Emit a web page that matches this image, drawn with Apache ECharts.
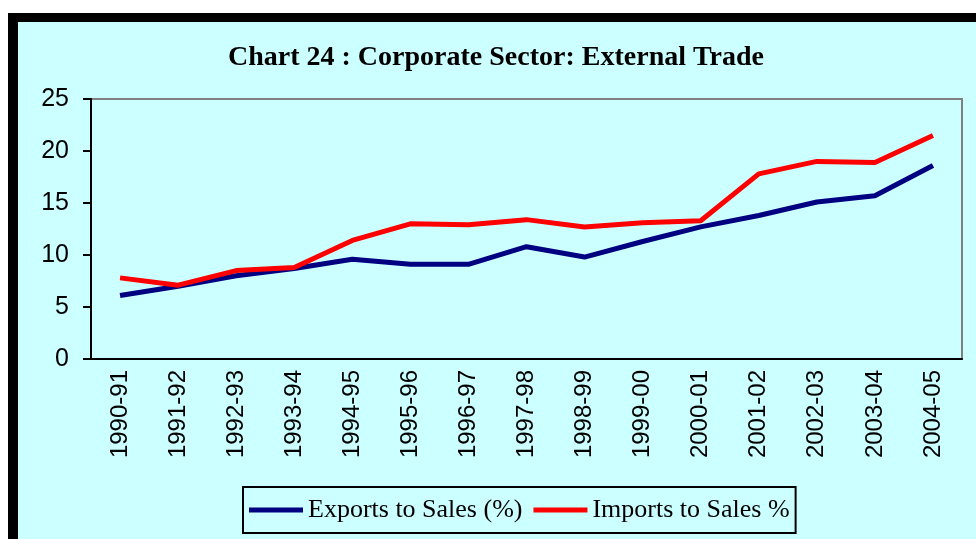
<!DOCTYPE html>
<html>
<head>
<meta charset="utf-8">
<script src="https://cdn.jsdelivr.net/npm/echarts@6/dist/echarts.min.js"></script>
<style>
  html, body { margin: 0; padding: 0; background: #fff; }
  #wrap { position: relative; width: 976px; height: 539px; overflow: hidden; }
  #frame { position: absolute; left: 8px; top: 13px; right: -20px; bottom: -20px; background: #000; }
  #fill { position: absolute; left: 18px; top: 22px; right: -20px; bottom: -20px; background: #ccffff; }
  #chart { position: absolute; left: 0; top: 0; width: 976px; height: 539px; }
</style>
</head>
<body>
<div id="wrap">
  <div id="frame"></div>
  <div id="fill"></div>
  <div id="chart"></div>
</div>
<script>
const years = ['1990-91', '1991-92', '1992-93', '1993-94', '1994-95', '1995-96', '1996-97', '1997-98',
  '1998-99', '1999-00', '2000-01', '2001-02', '2002-03', '2003-04', '2004-05']
const exportsToSales = [6.1, 7.0, 8.0, 8.7, 9.6, 9.1, 9.1, 10.8, 9.8, 11.3, 12.7, 13.8, 15.1, 15.7, 18.6]
const importsToSales = [7.8, 7.1, 8.5, 8.8, 11.4, 13.0, 12.9, 13.4, 12.7, 13.1, 13.3, 17.8, 19.0, 18.9, 21.5]
const yTicks = [0, 5, 10, 15, 20, 25]

const chart = echarts.init(document.getElementById('chart'), null, { renderer: 'canvas' })

chart.setOption({
  backgroundColor: 'transparent',
  animation: false,
  title: {
    text: 'Chart 24 : Corporate Sector: External Trade',
    left: 223,
    top: 39,
    textStyle: {
      fontFamily: 'Liberation Serif',
      fontWeight: 'bold',
      fontSize: 28,
      color: '#000'
    }
  },
  legend: {
    left: 243,
    top: 487,
    padding: [10, 6],
    itemGap: 11,
    itemWidth: 54,
    itemHeight: 5,
    icon: 'rect',
    borderColor: '#000',
    borderWidth: 2,
    textStyle: {
      fontFamily: 'Liberation Serif',
      fontSize: 26,
      color: '#000'
    },
    data: ['Exports to Sales (%)', 'Imports to Sales %']
  },
  grid: {
    left: 91,
    right: 14,
    top: 99,
    bottom: 180,
    show: true,
    borderColor: '#808080',
    borderWidth: 2
  },
  xAxis: {
    type: 'category',
    data: years,
    boundaryGap: true,
    axisLine: { lineStyle: { color: '#000', width: 2 } },
    axisTick: { length: 8, lineStyle: { color: '#000', width: 2 } },
    axisLabel: {
      rotate: 90,
      margin: 11,
      interval: 0,
      fontFamily: 'Liberation Sans',
      fontSize: 24,
      color: '#000'
    }
  },
  yAxis: {
    type: 'value',
    min: yTicks[0],
    max: yTicks[yTicks.length - 1],
    interval: 5,
    splitLine: { show: false },
    axisLine: { show: true, lineStyle: { color: '#000', width: 2 } },
    axisTick: { show: true, length: 8, lineStyle: { color: '#000', width: 2 } },
    axisLabel: {
      margin: 22,
      fontFamily: 'Liberation Sans',
      fontSize: 25,
      color: '#000'
    }
  },
  series: [
    {
      name: 'Exports to Sales (%)',
      type: 'line',
      data: exportsToSales,
      symbol: 'none',
      color: '#000080',
      lineStyle: { color: '#000080', width: 5 }
    },
    {
      name: 'Imports to Sales %',
      type: 'line',
      data: importsToSales,
      symbol: 'none',
      color: '#ff0000',
      lineStyle: { color: '#ff0000', width: 5 }
    }
  ]
})
</script>
</body>
</html>
